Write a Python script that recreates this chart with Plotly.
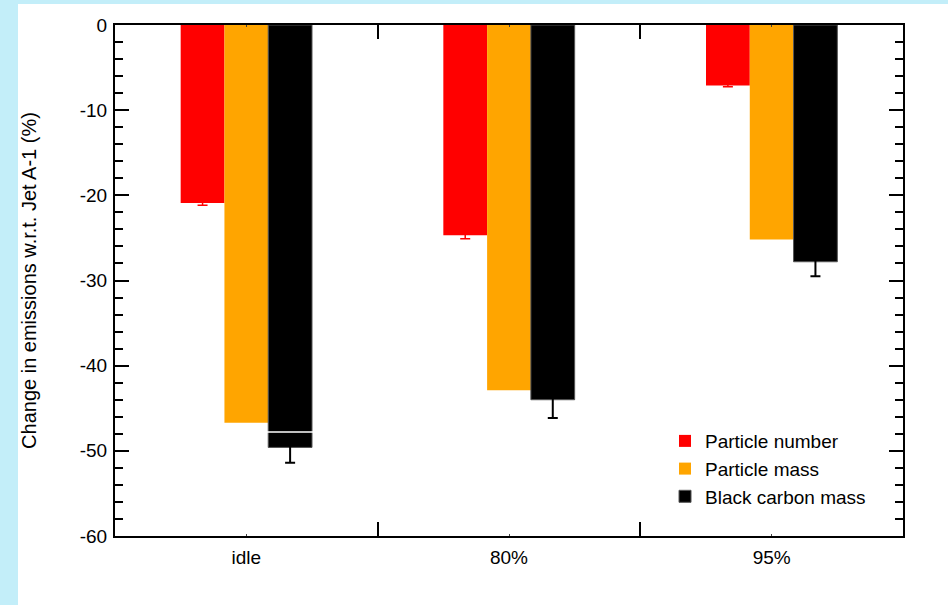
import plotly.graph_objects as go

categories = ["idle", "80%", "95%"]
series_names = ["Particle number", "Particle mass", "Black carbon mass"]
particle_number = [-20.9, -24.7, -7.1]
particle_number_err = [0.25, 0.4, 0.15]
particle_mass = [-46.7, -42.9, -25.2]
black_carbon = [-49.6, -44.0, -27.8]
black_carbon_err = [1.8, 2.15, 1.7]
y_tick_vals = [0, -10, -20, -30, -40, -50, -60]
y_tick_text = ["0", "-10", "-20", "-30", "-40", "-50", "-60"]

colors = ["#ff0000", "#ffa500", "#000000"]
BG = "#c3eef9"
FONT = "Liberation Sans, Arial, sans-serif"

xs = list(range(len(categories)))
bw = 1 / 6
offsets = [-0.25, -0.25 + bw, -0.25 + 2 * bw]

fig = go.Figure()
fig.add_trace(go.Bar(
    x=xs, y=particle_number, name=series_names[0], width=bw, offset=offsets[0],
    marker=dict(color=colors[0], line=dict(width=0)),
    error_y=dict(type="data", array=particle_number_err, color=colors[0], thickness=1.5, width=5),
))
fig.add_trace(go.Bar(
    x=xs, y=particle_mass, name=series_names[1], width=bw, offset=offsets[1],
    marker=dict(color=colors[1], line=dict(width=0)),
))
fig.add_trace(go.Bar(
    x=xs, y=black_carbon, name=series_names[2], width=bw, offset=offsets[2],
    marker=dict(color=colors[2], line=dict(color="#555555", width=1)),
    error_y=dict(type="data", array=black_carbon_err, color="#000000", thickness=2, width=5),
))
# white upper cap of the idle black-carbon error bar (visible inside the black bar)
fig.add_trace(go.Scatter(
    x=[xs[0] + offsets[2] + bw / 2], y=[black_carbon[0] + black_carbon_err[0]],
    mode="markers", showlegend=False, hoverinfo="skip",
    marker=dict(symbol="line-ew", size=40, line=dict(color="white", width=1.5)),
))

fig.update_layout(
    width=948, height=605,
    margin=dict(l=115, r=45, t=25, b=69),
    paper_bgcolor=BG,
    plot_bgcolor="white",
    font=dict(family=FONT, size=19, color="black"),
    showlegend=True,
    legend=dict(
        x=0.698, y=0.223, xanchor="left", yanchor="top",
        bgcolor="rgba(0,0,0,0)", font=dict(size=19),
        tracegroupgap=0,
    ),
    shapes=[dict(
        type="rect", xref="paper", yref="paper", layer="below",
        x0=-0.1231, x1=1.2, y0=-0.3, y1=1.0411,
        fillcolor="white", line=dict(width=0),
    )],
)
fig.update_xaxes(
    range=[-0.5, 2.5], tickvals=xs, ticktext=categories,
    ticks="inside", ticklen=2, tickwidth=1, tickcolor="#444",
    showline=True, linecolor="black", linewidth=2, mirror="ticks",
    showgrid=False, zeroline=False, automargin=False,
    tickfont=dict(size=19), ticklabelstandoff=3,
    minor=dict(tickvals=[0.5, 1.5], ticks="inside", ticklen=14, tickwidth=2, tickcolor="black", showgrid=False),
)
fig.update_yaxes(
    range=[-60, 0], tickvals=y_tick_vals, ticktext=y_tick_text,
    ticks="inside", ticklen=14, tickwidth=2, tickcolor="black",
    showline=True, linecolor="black", linewidth=2, mirror="ticks",
    showgrid=False, zeroline=False, automargin=False,
    tickfont=dict(size=19), ticklabelstandoff=2,
    minor=dict(dtick=2, ticks="inside", ticklen=8, tickwidth=2, tickcolor="black", showgrid=False),
    title=dict(text="Change in emissions w.r.t. Jet A-1 (%)", font=dict(size=20), standoff=38),
)

fig.write_html(
    "out.html",
    config={"displayModeBar": False},
    post_script="document.body.style.margin='0';document.body.style.background='" + BG + "';",
)
